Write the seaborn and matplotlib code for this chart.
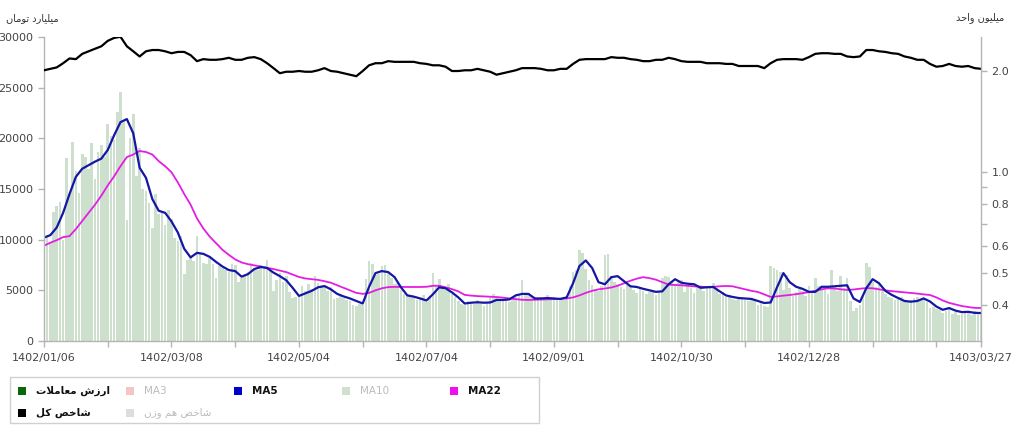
import seaborn as sns
import pandas as pd
import numpy as np
import matplotlib.pyplot as plt
from matplotlib.patches import Rectangle
from matplotlib.ticker import FixedLocator, FixedFormatter, NullFormatter

sns.set_style("ticks")
plt.rcParams['font.family'] = ['DejaVu Sans']

# ============ data ============
# daily trade value (billion toman)
trade_value = [9600, 10400, 9800, 12700, 13300, 13700, 10000, 18100, 14500, 19600,
               16800, 14600, 18500, 18200, 17000, 19500, 16000, 18700, 19300, 18200,
               21400, 20200, 19800, 22600, 24600, 21800, 11900, 20000, 22400, 16300,
               19000, 15000, 14800, 13600, 11200, 14500, 12500, 12700, 11400, 12900,
               12000, 10200, 9900, 10400, 6600, 8000, 8300, 7900, 10400, 8700,
               7700, 7600, 8200, 7600, 6200, 7400, 7200, 7000, 6800, 7600,
               7500, 5800, 6200, 6400, 6800, 7700, 7200, 7000, 7500, 7100,
               8000, 7200, 4900, 6000, 6700, 5800, 6400, 4800, 4200, 4300,
               4400, 5400, 4900, 5600, 5100, 6400, 5700, 5400, 5300, 4900,
               5300, 4100, 4200, 4500, 4200, 4000, 3900, 3600, 3500, 3700,
               3600, 6100, 7900, 7600, 6500, 6600, 7400, 7500, 6700, 6200,
               5600, 5700, 5000, 4600, 4600, 4400, 4300, 4000, 4200, 4500,
               3800, 4200, 6700, 5500, 6100, 5400, 5000, 5600, 4600, 4300,
               3900, 3700, 3600, 3900, 3800, 3700, 4000, 3700, 3500, 3800,
               4300, 4600, 4200, 4100, 4000, 4200, 3800, 4000, 4300, 4500,
               6000, 4600, 4700, 4300, 4000, 4100, 4300, 4200, 4500, 4000,
               4300, 4100, 4200, 4000, 4100, 5400, 6800, 7000, 9000, 8700,
               7100, 6000, 5500, 5100, 4900, 5400, 8500, 8600, 6400, 5800,
               5600, 5300, 5100, 5500, 5300, 5000, 4700, 5200, 4900, 4600,
               4800, 5000, 4500, 4900, 6200, 6400, 6300, 5900, 5600, 5800,
               6000, 4800, 5500, 5200, 4700, 5200, 5500, 4900, 5300, 5400,
               5700, 5000, 4600, 4800, 4300, 4500, 4100, 4000, 4300, 4200,
               4000, 3900, 4100, 4000, 3600, 3800, 3500, 3400, 7400, 7200,
               7000, 6800, 5000, 6500, 5200, 4400, 4800, 5100, 4900, 4400,
               5400, 4900, 6200, 5400, 5200, 5000, 4600, 7000, 5300, 4900,
               6400, 5200, 6200, 3900, 3000, 3300, 3600, 4500, 7700, 7300,
               5800, 5300, 5600, 4900, 4600, 4300, 4200, 4000, 4100, 4300,
               4000, 3900, 4000, 4200, 4300, 4100, 4200, 3800, 3300, 3400,
               3200, 3100, 2800, 3000, 3200, 2700, 2900, 2600, 2700, 2900,
               2800, 2600, 3000, 2700, 2800]

# moving averages and total index, read every second trading day
ma5 = [10200, 10450, 11200, 12650, 14500, 16200, 17000, 17350, 17700, 18000,
       18850, 20300, 21600, 21900, 20500, 17100, 16100, 14000, 12850, 12650,
       11800, 10700, 9100, 8250, 8700, 8600, 8300, 7800, 7350, 7000,
       6900, 6350, 6600, 7100, 7300, 7200, 6750, 6400, 6000, 5250,
       4450, 4700, 4950, 5300, 5420, 5100, 4650, 4400, 4200, 3950,
       3700, 5350, 6700, 6900, 6800, 6300, 5300, 4500, 4380, 4200,
       4000, 4600, 5300, 5200, 4800, 4300, 3700, 3780, 3820, 3780,
       3800, 4050, 4050, 4100, 4500, 4650, 4650, 4200, 4200, 4240,
       4200, 4150, 4300, 5700, 7400, 7950, 7200, 5800, 5600, 6300,
       6400, 5900, 5400, 5330, 5150, 5000, 4850, 4900, 5600, 6100,
       5750, 5650, 5600, 5250, 5300, 5330, 4900, 4500, 4350, 4240,
       4200, 4150, 3950, 3750, 3800, 5300, 6700, 5800, 5350, 5150,
       4850, 4850, 5350, 5350, 5400, 5450, 5500, 4200, 3850, 5200,
       6100, 5700, 4950, 4550, 4240, 3950, 3880, 3950, 4200, 3900,
       3400, 3080, 3250, 3000, 2850, 2880, 2780, 2760]

ma22 = [9400, 9700, 9950, 10250, 10350, 11050, 11850, 12650, 13450, 14350,
        15350, 16250, 17250, 18150, 18400, 18750, 18650, 18400, 17750, 17250,
        16650, 15650, 14500, 13450, 12100, 11100, 10300, 9650, 9000, 8500,
        8050, 7750, 7580, 7470, 7350, 7230, 7100, 6950, 6800, 6560,
        6320, 6170, 6100, 6030, 5900, 5750, 5500, 5250, 5000, 4750,
        4650, 4750, 5000, 5200, 5320, 5340, 5330, 5330, 5330, 5330,
        5350, 5450, 5450, 5300, 5120, 4900, 4550, 4480, 4430, 4400,
        4370, 4340, 4280, 4200, 4130, 4070, 4050, 4070, 4100, 4120,
        4140, 4160, 4200, 4300, 4500, 4750, 4950, 5100, 5180, 5280,
        5450, 5700, 5950, 6150, 6300, 6200, 6050, 5800, 5560, 5530,
        5500, 5450, 5400, 5340, 5330, 5350, 5400, 5430, 5400, 5250,
        5100, 4950, 4840, 4600, 4350, 4400, 4480, 4540, 4620, 4720,
        4820, 4950, 5100, 5200, 5180, 5100, 5040, 5080, 5160, 5220,
        5200, 5100, 5000, 4920, 4860, 4800, 4740, 4680, 4600, 4540,
        4300, 4000, 3760, 3600, 3450, 3350, 3270, 3250]

# total index (million units)
index_total = [2.01, 2.03, 2.05, 2.11, 2.18, 2.17, 2.25, 2.29, 2.33, 2.37,
               2.46, 2.51, 2.53, 2.37, 2.29, 2.21, 2.29, 2.31, 2.31, 2.29,
               2.26, 2.28, 2.28, 2.23, 2.14, 2.17, 2.16, 2.16, 2.17, 2.19,
               2.16, 2.16, 2.19, 2.20, 2.17, 2.11, 2.04, 1.97, 1.99, 1.99,
               2.00, 1.99, 1.99, 2.01, 2.04, 2.00, 1.99, 1.97, 1.95, 1.93,
               2.00, 2.08, 2.11, 2.11, 2.14, 2.13, 2.13, 2.13, 2.13, 2.11,
               2.10, 2.08, 2.08, 2.06, 2.00, 2.00, 2.01, 2.01, 2.03, 2.01,
               1.99, 1.95, 1.97, 1.99, 2.01, 2.04, 2.04, 2.04, 2.03, 2.01,
               2.01, 2.03, 2.03, 2.10, 2.16, 2.17, 2.17, 2.17, 2.17, 2.20,
               2.19, 2.19, 2.17, 2.16, 2.14, 2.14, 2.16, 2.16, 2.19, 2.17,
               2.14, 2.13, 2.13, 2.13, 2.11, 2.11, 2.11, 2.10, 2.10, 2.07,
               2.07, 2.07, 2.07, 2.04, 2.11, 2.16, 2.17, 2.17, 2.17, 2.16,
               2.20, 2.25, 2.26, 2.26, 2.25, 2.25, 2.21, 2.20, 2.21, 2.31,
               2.31, 2.29, 2.28, 2.26, 2.25, 2.21, 2.19, 2.16, 2.16, 2.10,
               2.06, 2.07, 2.10, 2.07, 2.06, 2.07, 2.04, 2.03]

tick_days = [0, 40, 80, 120, 160, 200, 240, 294]
tick_labels = ['1402/01/06', '1402/03/08', '1402/05/04', '1402/07/04',
               '1402/09/01', '1402/10/30', '1402/12/28', '1403/03/27']
minor_days = [20, 60, 100, 140, 180, 220, 260, 280]

left_ticks = [0, 5000, 10000, 15000, 20000, 25000, 30000]
right_ticks = [0.4, 0.5, 0.6, 0.8, 1.0, 2.0]
right_minor = [0.7, 0.9]

legend_items = [('ارزش معاملات', '#0b650b', True, 0, 0),
                ('MA3', '#f5c4c4', False, 1, 0),
                ('MA5', '#0000cc', True, 2, 0),
                ('MA10', '#cfe0cf', False, 3, 0),
                ('MA22', '#ee11ee', True, 4, 0),
                ('شاخص کل', '#000000', True, 0, 1),
                ('شاخص هم وزن', '#dddddd', False, 1, 1)]

# ============ persian shaping (matplotlib has no text shaping / bidi) ============
FORMS = {
    'ا': ('\uFE8D', '\uFE8E', None, None),
    'ت': ('\uFE95', '\uFE96', '\uFE97', '\uFE98'),
    'ح': ('\uFEA1', '\uFEA2', '\uFEA3', '\uFEA4'),
    'خ': ('\uFEA5', '\uFEA6', '\uFEA7', '\uFEA8'),
    'د': ('\uFEA9', '\uFEAA', None, None),
    'ر': ('\uFEAD', '\uFEAE', None, None),
    'ز': ('\uFEAF', '\uFEB0', None, None),
    'ش': ('\uFEB5', '\uFEB6', '\uFEB7', '\uFEB8'),
    'ص': ('\uFEB9', '\uFEBA', '\uFEBB', '\uFEBC'),
    'ع': ('\uFEC9', '\uFECA', '\uFECB', '\uFECC'),
    'ل': ('\uFEDD', '\uFEDE', '\uFEDF', '\uFEE0'),
    'م': ('\uFEE1', '\uFEE2', '\uFEE3', '\uFEE4'),
    'ن': ('\uFEE5', '\uFEE6', '\uFEE7', '\uFEE8'),
    'ه': ('\uFEE9', '\uFEEA', '\uFEEB', '\uFEEC'),
    'و': ('\uFEED', '\uFEEE', None, None),
    'ی': ('\uFBFC', '\uFBFD', '\uFBFE', '\uFBFF'),
    'ک': ('\uFB8E', '\uFB8F', '\uFB90', '\uFB91'),
}


def shape(text):
    tokens = []
    i = 0
    while i < len(text):
        if text[i] == 'ل' and i + 1 < len(text) and text[i + 1] == 'ا':
            tokens.append('LA')
            i += 2
        else:
            tokens.append(text[i])
            i += 1

    def joins_next(t):
        return t in FORMS and FORMS[t][2] is not None

    def joins_prev(t):
        return t == 'LA' or t in FORMS

    out = []
    for k, t in enumerate(tokens):
        a = k > 0 and joins_next(tokens[k - 1]) and joins_prev(t)
        b = k + 1 < len(tokens) and joins_next(t) and joins_prev(tokens[k + 1])
        if t == 'LA':
            out.append('\uFEFC' if a else '\uFEFB')
        elif t not in FORMS:
            out.append(t)
        else:
            iso, fin, ini, med = FORMS[t]
            out.append(med if a and b else fin if a else ini if b else iso)
    # right-to-left: draw in visual order
    return ''.join(reversed(out))


# ============ frames ============
bars = pd.DataFrame({'day': np.arange(len(trade_value)), 'value': trade_value})
lines = pd.DataFrame({'day': np.arange(len(ma5)) * 2, 'ma5': ma5, 'ma22': ma22,
                      'index': index_total})

fig = plt.figure(figsize=(10.24, 4.32), dpi=100)
ax = fig.add_axes([44 / 1024, 1 - 341 / 432, 937 / 1024, 304 / 432])

sns.barplot(data=bars, x='day', y='value', native_scale=True, color='#cde0cd',
            saturation=1, width=0.82, errorbar=None, edgecolor='none', ax=ax)
sns.lineplot(data=lines, x='day', y='ma22', color='#e31ee3', lw=1.3, ax=ax)
sns.lineplot(data=lines, x='day', y='ma5', color='#1616a6', lw=1.6, ax=ax)

ax2 = ax.twinx()
sns.lineplot(data=lines, x='day', y='index', color='black', lw=1.6, ax=ax2)
ax2.set_yscale('log')
ax2.set_ylim(0.3134, 2.526)
ax2.yaxis.set_major_locator(FixedLocator(right_ticks))
ax2.yaxis.set_major_formatter(FixedFormatter(['%.1f' % t for t in right_ticks]))
ax2.yaxis.set_minor_locator(FixedLocator(right_minor))
ax2.yaxis.set_minor_formatter(NullFormatter())

ax.set_xlim(0, 294)
ax.set_ylim(0, 30000)
ax.set_yticks(left_ticks)
ax.set_xticks(tick_days)
ax.set_xticklabels(tick_labels)
ax.set_xticks(minor_days, minor=True)
ax.set_xlabel('')
ax.set_ylabel('')
ax2.set_ylabel('')

spine_c = '#b4b4b4'
for a in (ax, ax2):
    a.spines['top'].set_visible(False)
    for s in a.spines.values():
        s.set_color(spine_c)
        s.set_linewidth(1.0)
ax.spines['right'].set_visible(False)
ax2.spines['left'].set_visible(False)
ax2.spines['bottom'].set_visible(False)

ax.tick_params(axis='both', which='both', colors=spine_c, labelcolor='#444444',
               labelsize=8, length=4, width=1.0)
ax2.tick_params(axis='y', which='both', colors=spine_c, labelcolor='#444444',
                labelsize=8, length=4, width=1.0)
ax.tick_params(axis='x', pad=5)

# ============ axis titles ============
fig.text(32 / 1024, 1 - 18 / 432, shape('میلیارد تومان'), ha='center', va='center',
         fontsize=7, color='#333333', family=['DejaVu Sans'])
fig.text(980 / 1024, 1 - 18 / 432, shape('میلیون واحد'), ha='center', va='center',
         fontsize=7, color='#333333', family=['DejaVu Sans'])

# ============ legend ============
fig.add_artist(Rectangle((10 / 1024, 1 - 423 / 432), 529 / 1024, 46 / 432,
                         transform=fig.transFigure, fill=False,
                         edgecolor='#d0d0d0', lw=1.0))
for label, color, active, col, row in legend_items:
    x0 = 18 + 108 * col
    yc = 391 + 22 * row
    fig.add_artist(Rectangle((x0 / 1024, 1 - (yc + 4) / 432), 8 / 1024, 8 / 432,
                             transform=fig.transFigure, color=color, lw=0))
    txt = shape(label) if not label.startswith('MA') else label
    fig.text((x0 + 18) / 1024, 1 - yc / 432, txt, ha='left', va='center',
             fontsize=7.5, color='#111111' if active else '#bbbbbb',
             weight='bold' if active else 'normal', family=['DejaVu Sans'])

fig.savefig('out.png', dpi=100)
